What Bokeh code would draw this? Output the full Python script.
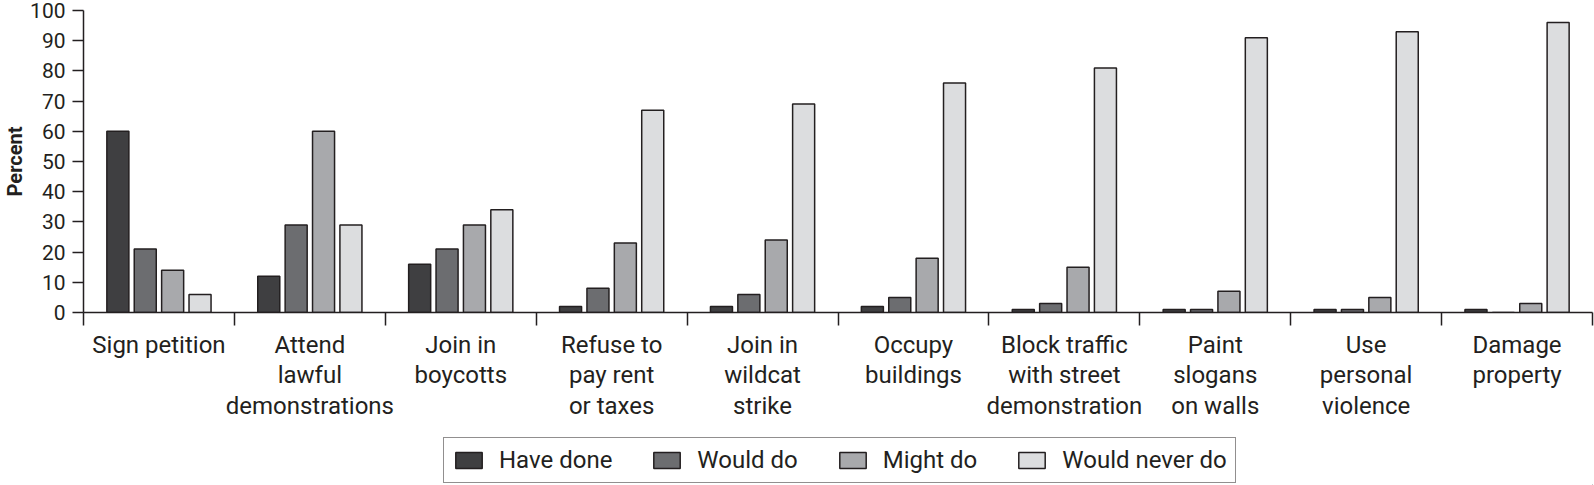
from bokeh.plotting import figure
from bokeh.layouts import column
from bokeh.models import ColumnDataSource, FixedTicker, Range1d, Legend, LegendItem
from bokeh.embed import file_html
from bokeh.resources import INLINE

categories = ["Sign petition", "Attend\nlawful\ndemonstrations", "Join in\nboycotts",
              "Refuse to\npay rent\nor taxes", "Join in\nwildcat\nstrike", "Occupy\nbuildings",
              "Block traffic\nwith street\ndemonstration", "Paint\nslogans\non walls",
              "Use\npersonal\nviolence", "Damage\nproperty"]
series = ["Have done", "Would do", "Might do", "Would never do"]
have_done = [60, 12, 16, 2, 2, 2, 1, 1, 1, 1]
would_do = [21, 29, 21, 8, 6, 5, 3, 1, 1, 0]
might_do = [14, 60, 29, 23, 24, 18, 15, 7, 5, 3]
would_never = [6, 29, 34, 67, 69, 76, 81, 91, 93, 96]
y_ticks = list(range(0, 101, 10))

colors = ["#3f3f41", "#6c6d70", "#a8a9ac", "#dcdddf"]
dark = "#231f20"
FONT = "Roboto"

p = figure(frame_width=1509, frame_height=302, output_backend="svg", toolbar_location=None,
           x_range=Range1d(0, len(categories)), y_range=Range1d(0, 100),
           min_border_left=83, min_border_right=2, min_border_top=10, min_border_bottom=118)
p.outline_line_color = None
p.xgrid.grid_line_color = None
p.ygrid.grid_line_color = None
p.background_fill_color = "white"
p.border_fill_color = "white"

step = 0.1815
width = 0.146
for k, vals in enumerate([have_done, would_do, might_do, would_never]):
    xs = [i + 0.5 + (k - 1.5) * step for i in range(len(categories))]
    src = ColumnDataSource(dict(x=xs, top=vals))
    p.vbar(x="x", top="top", bottom=0, width=width, source=src,
           fill_color=colors[k], line_color=dark, line_width=1.5)

# x axis: labels at centers, boundary ticks as minor ticks
xa = p.xaxis[0]
xa.ticker = FixedTicker(ticks=[i + 0.5 for i in range(len(categories))],
                        minor_ticks=list(range(len(categories) + 1)))
xa.major_label_overrides = {i + 0.5: c for i, c in enumerate(categories)}
xa.major_tick_out = 0
xa.major_tick_in = 0
xa.minor_tick_out = 13
xa.minor_tick_in = 0
xa.minor_tick_line_color = dark
xa.minor_tick_line_width = 1.5
xa.axis_line_color = dark
xa.axis_line_width = 1.5
xa.major_label_standoff = 5
xa.major_label_text_font = FONT
xa.major_label_text_font_size = "24px"
xa.major_label_text_color = dark
xa.major_label_text_line_height = 1.09

ya = p.yaxis[0]
ya.ticker = FixedTicker(ticks=y_ticks)
ya.minor_tick_line_color = None
ya.major_tick_out = 11
ya.major_tick_in = 0
ya.major_tick_line_color = dark
ya.major_tick_line_width = 1.5
ya.axis_line_color = dark
ya.axis_line_width = 1.5
ya.major_label_standoff = 7
ya.major_label_text_font = FONT
ya.major_label_text_font_size = "21px"
ya.major_label_text_color = dark
ya.axis_label = "Percent"
ya.axis_label_text_font = FONT
ya.axis_label_text_font_style = "bold"
ya.axis_label_text_font_size = "20px"
ya.axis_label_text_color = dark
ya.axis_label_standoff = 0

# legend in its own strip below the chart (proxy bars sit outside the visible range)
lf = figure(width=1594, height=55, output_backend="svg", toolbar_location=None,
            x_range=Range1d(0, 1), y_range=Range1d(0, 1),
            min_border=0, x_axis_type=None, y_axis_type=None)
lf.outline_line_color = None
lf.xgrid.grid_line_color = None
lf.ygrid.grid_line_color = None
items = []
for k, name in enumerate(series):
    r = lf.vbar(x=[5], top=[0], bottom=[0], width=0.1,
                fill_color=colors[k], line_color=dark, line_width=1.5)
    items.append(LegendItem(label=name, renderers=[r]))

legend = Legend(items=items, orientation="horizontal", location=(360, 2))
legend.label_text_font = FONT
legend.label_text_font_size = "24px"
legend.label_text_color = dark
legend.glyph_width = 33
legend.glyph_height = 20
legend.label_standoff = 14
legend.spacing = 38
legend.padding = 8
legend.margin = 0
legend.label_height = 24
legend.border_line_color = dark
legend.border_line_width = 1.5
legend.background_fill_color = "white"
legend.background_fill_alpha = 1.0
lf.add_layout(legend, "center")

open("out.html", "w").write(file_html(column(p, lf, spacing=0), INLINE))
